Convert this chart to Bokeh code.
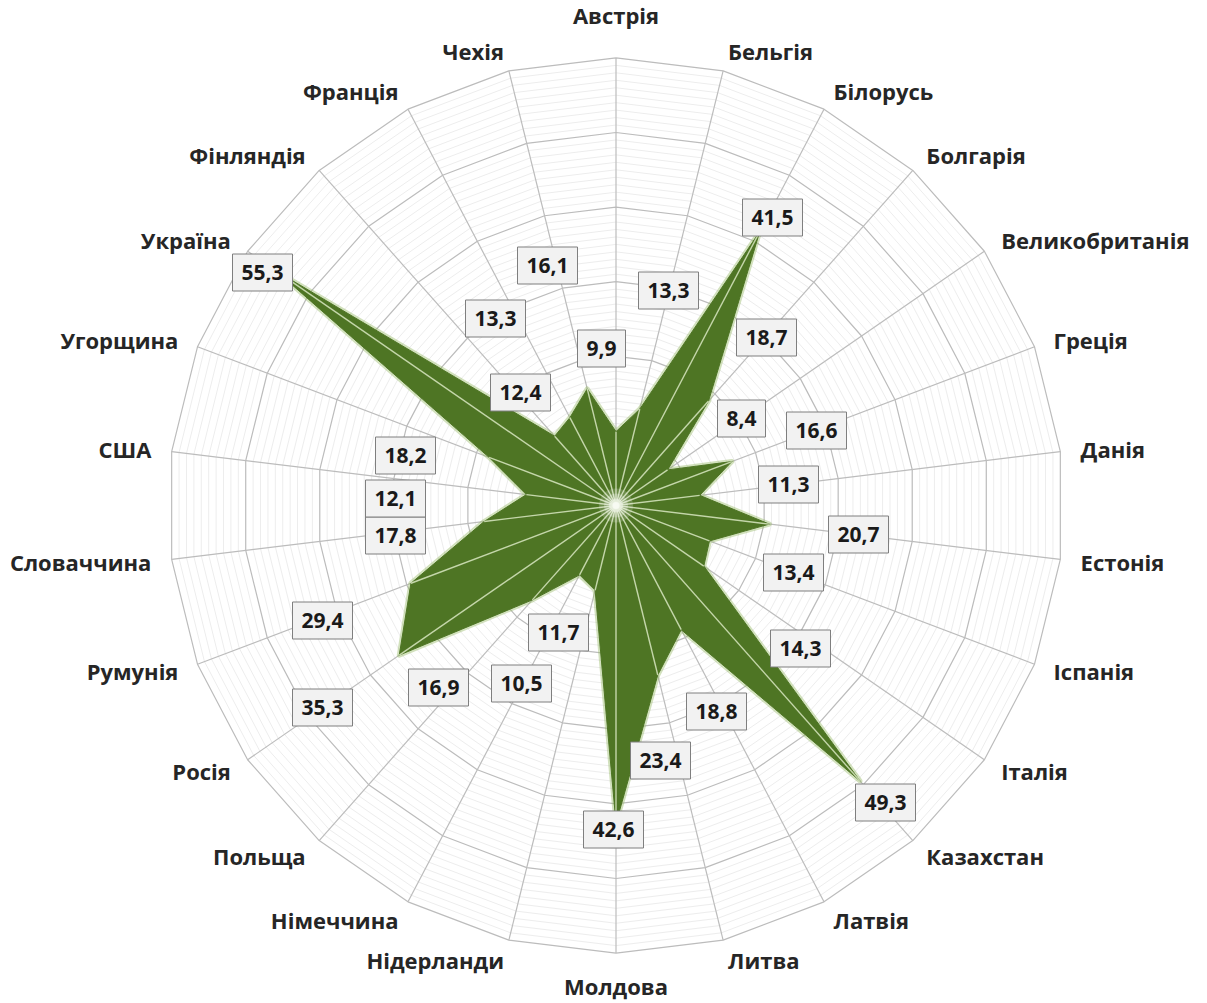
import numpy as np
from bokeh.plotting import figure
from bokeh.models import Range1d, ColumnDataSource
from bokeh.core.properties import value, field
from bokeh.embed import file_html
from bokeh.resources import INLINE

# ---------------- data ----------------
categories = ["Австрія", "Бельгія", "Білорусь", "Болгарія", "Великобританія", "Греція",
              "Данія", "Естонія", "Іспанія", "Італія", "Казахстан", "Латвія", "Литва",
              "Молдова", "Нідерланди", "Німеччина", "Польща", "Росія", "Румунія",
              "Словаччина", "США", "Угорщина", "Україна", "Фінляндія", "Франція", "Чехія"]
values = [9.9, 13.3, 41.5, 18.7, 8.4, 16.6, 11.3, 20.7, 13.4, 14.3, 49.3, 18.8, 23.4,
          42.6, 11.7, 10.5, 16.9, 35.3, 29.4, 17.8, 12.1, 18.2, 55.3, 12.4, 13.3, 16.1]
axis_max = 60
major_step = 10
minor_step = 1

# ---------------- layout ----------------
W, H = 1207, 1003
CX, CY = 615.5, 505.0          # centre of the radar in figure pixels
SCALE = 7.46                   # pixels per value unit
# data-label box centres, pixel offsets from the radar centre (manually placed in the original)
label_offsets_px = [(-14.5, -157), (52.5, -215), (156.5, -288), (150.5, -168), (125.5, -87),
                    (200.5, -75), (172.5, -21), (242.5, 29), (177.5, 67), (184.5, 143),
                    (269.5, 297), (100.5, 206), (44.5, 255), (-2.5, 324), (-57.5, 127),
                    (-94.5, 178), (-177.5, 182), (-293.5, 202), (-293.5, 115), (-220.5, 30),
                    (-220.5, -7), (-210.5, -50), (-353.5, -233), (-95.5, -113), (-120.5, -187),
                    (-68.5, -240)]

FONT = "Open Sans"
GREEN = "#4e7524"

N = len(categories)
theta = 2 * np.pi * np.arange(N) / N
sx, cy_ = np.sin(theta), np.cos(theta)

p = figure(width=W, height=H, output_backend="svg", toolbar_location=None,
           x_range=Range1d(-CX / SCALE, (W - CX) / SCALE),
           y_range=Range1d(-(H - CY) / SCALE, CY / SCALE),
           x_axis_type=None, y_axis_type=None, min_border=0)
p.outline_line_color = None
p.grid.visible = False
p.background_fill_color = "white"
p.border_fill_color = "white"

# grid rings (polygons)
def ring(r):
    xs = list(r * sx) + [r * sx[0]]
    ys = list(r * cy_) + [r * cy_[0]]
    return xs, ys

minor_xs, minor_ys, major_xs, major_ys = [], [], [], []
for k in np.arange(minor_step, axis_max + 0.001, minor_step):
    xs, ys = ring(k)
    if abs(k % major_step) < 1e-6:
        major_xs.append(xs); major_ys.append(ys)
    else:
        minor_xs.append(xs); minor_ys.append(ys)
p.multi_line(minor_xs, minor_ys, line_color="#ededed", line_width=1)
p.multi_line(major_xs, major_ys, line_color="#bcbcbc", line_width=1.2)

# spokes
spoke_xs = [[0, axis_max * s] for s in sx]
spoke_ys = [[0, axis_max * c] for c in cy_]
p.multi_line(spoke_xs, spoke_ys, line_color="#bcbcbc", line_width=1.2)

# data series
vals = np.array(values)
px = list(vals * sx)
py = list(vals * cy_)
p.patch(px + [px[0]], py + [py[0]], fill_color=None, line_color="#8fb35a",
        line_alpha=0.4, line_width=5, line_join="round")
p.patch(px + [px[0]], py + [py[0]], fill_color=GREEN, fill_alpha=1.0,
        line_color=GREEN, line_width=1)

# light spokes inside the filled area
p.multi_line([[0, x] for x in px], [[0, y] for y in py],
             line_color="#d9e7c2", line_alpha=0.85, line_width=1.4)

# centre glow
for sz, a in [(34, 0.18), (24, 0.25), (14, 0.35), (7, 0.5)]:
    p.scatter([0], [0], size=sz, fill_color="white", fill_alpha=a, line_color=None)

# category labels
cat_x, cat_y, cat_align, cat_base = [], [], [], []
for i in range(N):
    s, c = sx[i], cy_[i]
    if abs(s) < 0.05:
        r = (476 if c > 0 else 465) / SCALE
        cat_align.append("center")
        cat_base.append("bottom" if c > 0 else "top")
    else:
        r = 468 / SCALE
        cat_align.append("left" if s > 0 else "right")
        cat_base.append("middle")
    cat_x.append(r * s)
    cat_y.append(r * c)
cat_src = ColumnDataSource(dict(x=cat_x, y=cat_y, t=categories, a=cat_align, b=cat_base))
p.text(x="x", y="y", text="t", source=cat_src, text_align=field("a"),
       text_baseline=field("b"), text_font=value(FONT), text_font_style="bold",
       text_font_size="22px", text_color="#262626")

# data labels
lab_text = [f"{v:.1f}".replace(".", ",") for v in values]
lab_x = [dx / SCALE for dx, dy in label_offsets_px]
lab_y = [-dy / SCALE for dx, dy in label_offsets_px]
lab_w = [48 if len(t) <= 3 else 60 for t in lab_text]
lab_src = ColumnDataSource(dict(x=lab_x, y=lab_y, t=lab_text, w=lab_w))
p.rect(x="x", y="y", width="w", height=37, width_units="screen", height_units="screen",
       source=lab_src, fill_color="#f2f2f2", line_color="#7f7f7f", line_width=1)
p.text(x="x", y="y", text="t", source=lab_src, text_align="center", text_baseline="middle",
       text_font=value(FONT), text_font_style="bold", text_font_size="21px",
       text_color="#1a1a1a")

open("out.html", "w").write(file_html(p, INLINE))
